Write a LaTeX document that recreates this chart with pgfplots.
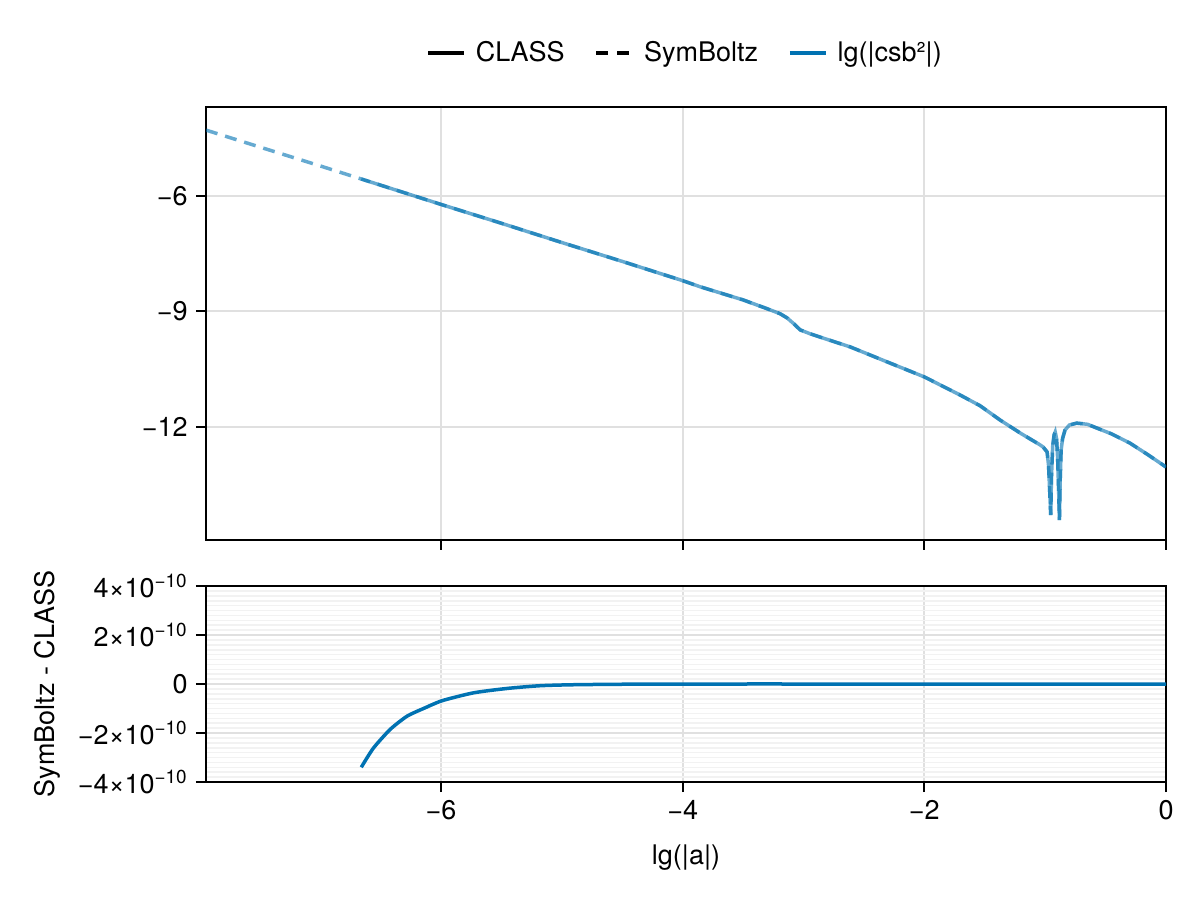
\documentclass[border=0pt,12pt]{standalone}
\usepackage{fontspec}
\setmainfont{TeX Gyre Heros}
\usepackage{pgfplots}
\pgfplotsset{compat=1.18}
\usepackage{pgfplotstable}

\definecolor{cblue}{RGB}{0,114,178}
\definecolor{gridmaj}{RGB}{224,224,224}
\definecolor{gridmin}{RGB}{242,242,242}

% lg(|csb^2|) against lg(|a|), SymBoltz
\pgfplotstableread{
x y
-7.945 -4.29
-7.5 -4.73
-7.0 -5.22
-6.66 -5.56
-6.5 -5.72
-6.0 -6.22
-5.5 -6.71
-5.0 -7.21
-4.5 -7.70
-4.0 -8.20
-3.854 -8.36
-3.5 -8.70
-3.3 -8.93
-3.193 -9.06
-3.135 -9.17
-3.08 -9.32
-3.027 -9.48
-2.945 -9.58
-2.8 -9.73
-2.614 -9.92
-2.308 -10.31
-2.0 -10.70
-1.704 -11.17
-1.538 -11.45
-1.373 -11.82
-1.2 -12.17
-1.05 -12.45
-1.017 -12.52
-0.984 -12.65
-0.972 -13.0
-0.962 -13.7
-0.954 -14.29
-0.948 -13.3
-0.938 -12.5
-0.926 -12.2
-0.917 -12.13
-0.906 -12.3
-0.897 -12.8
-0.889 -13.6
-0.882 -14.42
-0.876 -13.4
-0.868 -12.6
-0.856 -12.3
-0.836 -12.08
-0.80 -11.95
-0.739 -11.90
-0.65 -11.93
-0.571 -12.03
-0.45 -12.18
-0.298 -12.42
-0.15 -12.72
0 -13.04
}\symboltz

% CLASS, same quantity
\pgfplotstableread{
x y
-6.66 -5.56
-6.5 -5.72
-6.0 -6.22
-5.5 -6.71
-5.0 -7.21
-4.5 -7.70
-4.0 -8.20
-3.854 -8.36
-3.5 -8.70
-3.3 -8.93
-3.193 -9.06
-3.135 -9.17
-3.08 -9.32
-3.027 -9.48
-2.945 -9.58
-2.8 -9.73
-2.614 -9.92
-2.308 -10.31
-2.0 -10.70
-1.704 -11.17
-1.538 -11.45
-1.373 -11.82
-1.2 -12.17
-1.05 -12.45
-1.017 -12.52
-0.984 -12.65
-0.972 -13.0
-0.962 -13.7
-0.954 -14.29
-0.948 -13.3
-0.938 -12.5
-0.926 -12.2
-0.917 -12.13
-0.906 -12.3
-0.897 -12.8
-0.889 -13.6
-0.882 -14.42
-0.876 -13.4
-0.868 -12.6
-0.856 -12.3
-0.836 -12.08
-0.80 -11.95
-0.739 -11.90
-0.65 -11.93
-0.571 -12.03
-0.45 -12.18
-0.298 -12.42
-0.15 -12.72
0 -13.04
}\classdata

% SymBoltz - CLASS
\pgfplotstableread{
x y
-6.66 -3.40e-10
-6.56 -2.62e-10
-6.42 -1.85e-10
-6.28 -1.31e-10
-6.14 -0.99e-10
-5.99 -0.68e-10
-5.73 -0.36e-10
-5.45 -0.18e-10
-5.18 -0.07e-10
-4.90 -0.03e-10
-4.5 -0.01e-10
-4.0 -0.004e-10
-3.5 0
-3.0 0
-2.0 0
-1.0 0
0 0
}\diffdata

\pgfplotsset{
  mk/.style={
    scale only axis, width=480pt,
    xmin=-7.945, xmax=0,
    axis line style={line width=1pt},
    tick align=outside, major tick length=5pt,
    every tick/.style={black, line width=1pt},
    xtick pos=bottom, ytick pos=left,
    grid=major,
    major grid style={gridmaj, line width=1pt},
    xtick={-6,-4,-2,0},
    every tick label/.append style={font=\fontsize{13.5}{16}\selectfont},
    label style={font=\fontsize{13.5}{16}\selectfont},
  },
}

\begin{document}
\begin{tikzpicture}
\useasboundingbox (0,0) rectangle (600pt,450pt);

\begin{axis}[mk,
  at={(103pt,180pt)}, anchor=south west, height=216.5pt,
  ymin=-14.935, ymax=-3.69,
  ytick={-6,-9,-12}, yticklabels={−6,−9,−12},
  xticklabels={},
  legend columns=3,
  legend image code/.code={\draw[#1] (0pt,0pt) -- (18pt,0pt);},
  legend style={at={(0.5,1)}, anchor=center, yshift=27pt, draw=none,
    font=\fontsize{13.5}{16}\selectfont,
    /tikz/every odd column/.append style={column sep=3pt},
    /tikz/every even column/.append style={column sep=13pt}},
]
\addlegendimage{black, line width=1.75pt}
\addlegendentry{CLASS}
\addlegendimage{black, line width=1.75pt, dash pattern=on 6pt off 4.5pt}
\addlegendentry{SymBoltz}
\addlegendimage{cblue, line width=1.75pt}
\addlegendentry{lg(|csb²|)}
\addplot[cblue, opacity=0.6, line width=1.75pt, forget plot] table[x=x,y=y] {\classdata};
\addplot[cblue, opacity=0.6, line width=1.75pt, dash pattern=on 6pt off 4pt, forget plot] table[x=x,y=y] {\symboltz};
\end{axis}

\begin{axis}[mk,
  at={(103pt,59pt)}, anchor=south west, height=98pt,
  ymin=-4e-10, ymax=4e-10,
  ytick={-4e-10,-2e-10,0,2e-10,4e-10},
  yticklabels={−4×10\textsuperscript{−10},−2×10\textsuperscript{−10},0,2×10\textsuperscript{−10},4×10\textsuperscript{−10}},
  scaled y ticks=false,
  minor y tick num=9, minor tick length=0pt,
  yminorgrids=true,
  minor grid style={gridmin, line width=0.8pt},
  xticklabels={−6,−4,−2,0},
  xlabel={lg(|a|)},
  ylabel={SymBoltz - CLASS},
  xlabel style={at={(axis description cs:0.5,-0.388)}, anchor=center},
  ylabel style={at={(axis description cs:-0.1656,0.5)}, anchor=center, rotate=0},
]
\addplot[cblue, line width=1.75pt, smooth, tension=0.4] table[x=x,y=y] {\diffdata};
\end{axis}
\end{tikzpicture}
\end{document}
